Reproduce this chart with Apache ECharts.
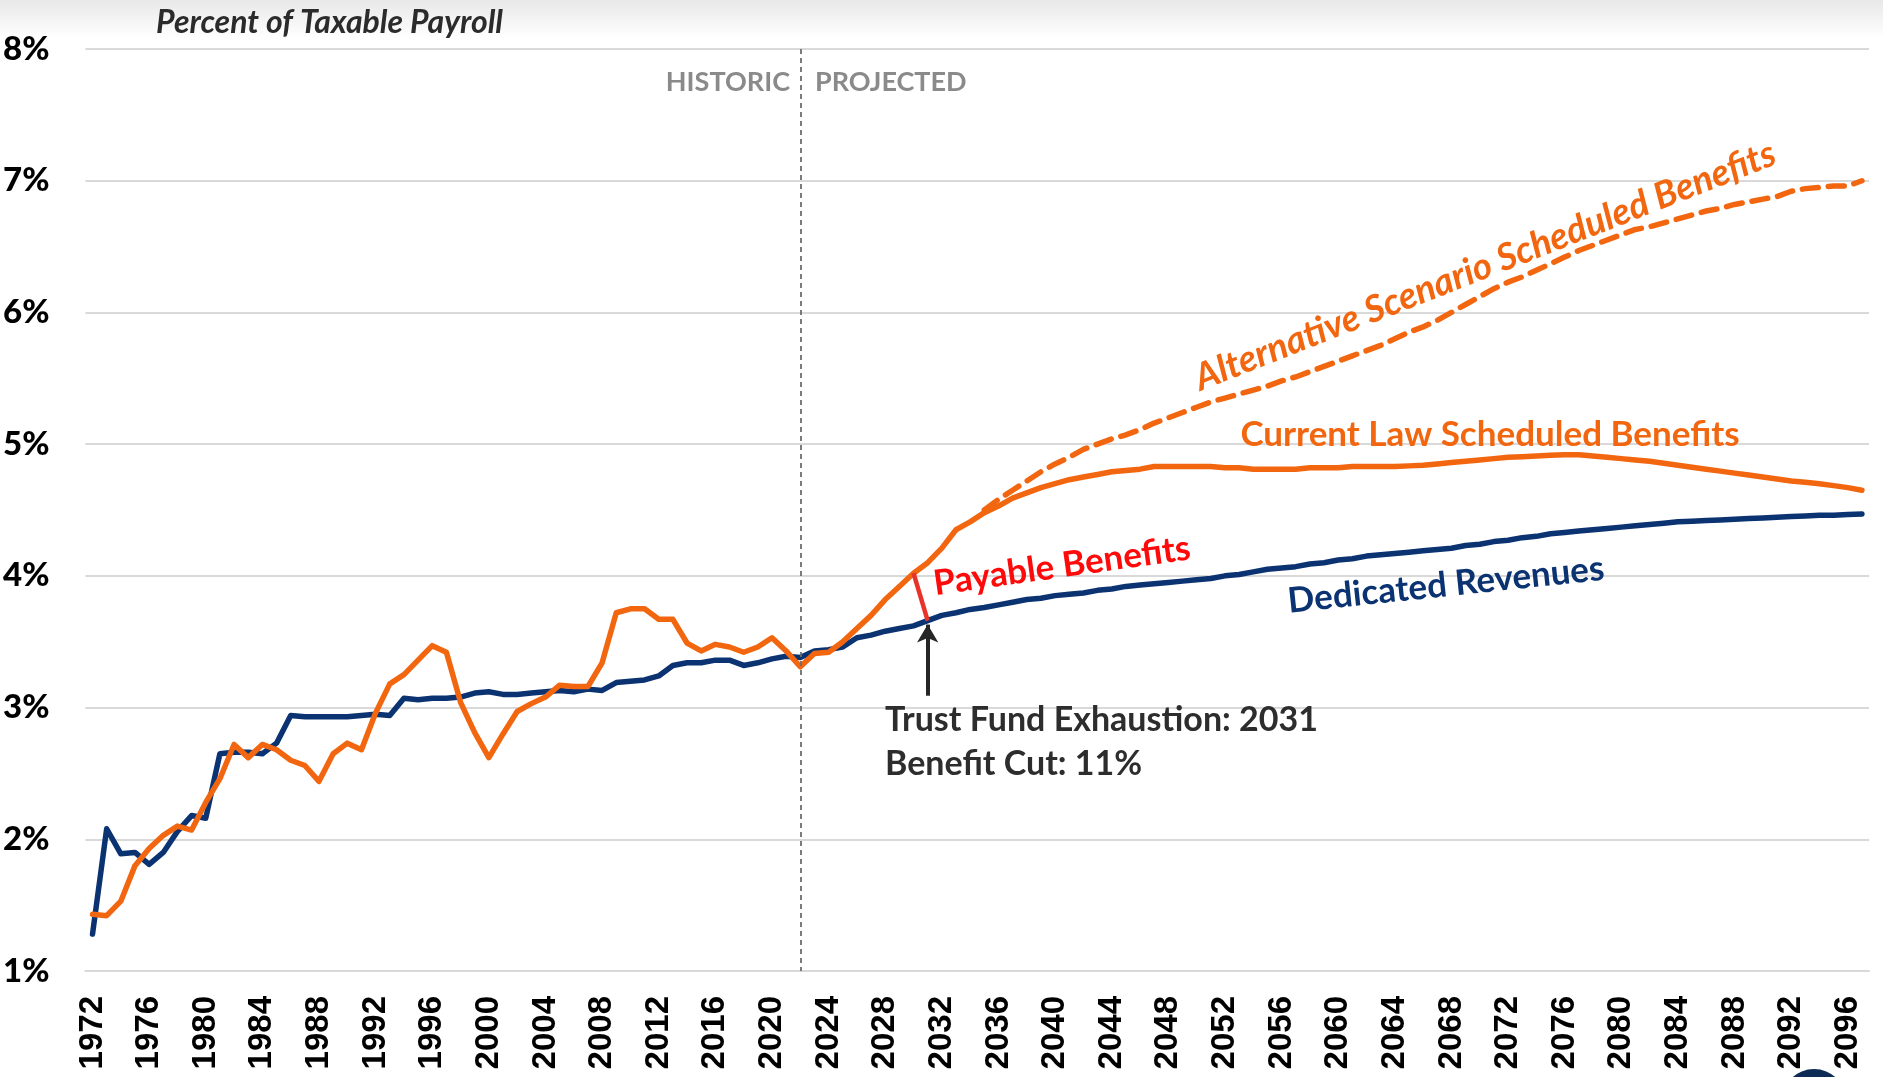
<!DOCTYPE html>
<html>
<head>
<meta charset="utf-8">
<script src="https://cdn.jsdelivr.net/npm/echarts@6/dist/echarts.min.js"></script>
<style>
  html, body { margin: 0; padding: 0; background: #fff; }
  #chart { width: 1883px; height: 1077px; }
</style>
</head>
<body>
<div id="chart"></div>
<script>
// years on the axis
var firstYear = 1972, lastYear = 2097;
var years = [];
for (var y = firstYear; y <= lastYear; y++) years.push(String(y));

// dedicated revenues, % of taxable payroll (1972-2097)
var revenue = [
  1.28, 2.08, 1.89, 1.90, 1.81, 1.90, 2.06, 2.18, 2.16, 2.65,
  2.66, 2.66, 2.65, 2.73, 2.94, 2.93, 2.93, 2.93, 2.93, 2.94,
  2.95, 2.94, 3.07, 3.06, 3.07, 3.07, 3.08, 3.11, 3.12, 3.10,
  3.10, 3.11, 3.12, 3.13, 3.12, 3.14, 3.13, 3.19, 3.20, 3.21,
  3.24, 3.32, 3.34, 3.34, 3.36, 3.36, 3.32, 3.34, 3.37, 3.39,
  3.38, 3.43, 3.44, 3.46, 3.53, 3.55, 3.58, 3.60, 3.62, 3.66,
  3.70, 3.72, 3.745, 3.76, 3.78, 3.80, 3.82, 3.83, 3.85, 3.86,
  3.87, 3.89, 3.90, 3.92, 3.93, 3.94, 3.95, 3.96, 3.97, 3.98,
  4.00, 4.01, 4.03, 4.05, 4.06, 4.07, 4.09, 4.10, 4.12, 4.13,
  4.15, 4.16, 4.17, 4.18, 4.19, 4.20, 4.21, 4.23, 4.24, 4.26,
  4.27, 4.29, 4.30, 4.32, 4.33, 4.34, 4.35, 4.36, 4.37, 4.38,
  4.39, 4.40, 4.41, 4.415, 4.42, 4.425, 4.43, 4.435, 4.44, 4.445,
  4.45, 4.455, 4.46, 4.46, 4.465, 4.47
];

// cost: historic, then current law scheduled benefits (1972-2097)
var cost = [
  1.43, 1.42, 1.53, 1.80, 1.93, 2.03, 2.10, 2.07, 2.28, 2.46,
  2.72, 2.62, 2.72, 2.68, 2.60, 2.56, 2.44, 2.65, 2.73, 2.68,
  2.96, 3.18, 3.25, 3.36, 3.47, 3.42, 3.04, 2.81, 2.62, 2.80,
  2.97, 3.03, 3.08, 3.17, 3.16, 3.16, 3.34, 3.72, 3.75, 3.75,
  3.67, 3.67, 3.49, 3.43, 3.48, 3.46, 3.42, 3.46, 3.53, 3.43,
  3.31, 3.41, 3.42, 3.50, 3.60, 3.70, 3.82, 3.92, 4.02, 4.10,
  4.21, 4.35, 4.41, 4.48, 4.53, 4.59, 4.63, 4.67, 4.70, 4.73,
  4.75, 4.77, 4.79, 4.80, 4.81, 4.83, 4.83, 4.83, 4.83, 4.83,
  4.82, 4.82, 4.81, 4.81, 4.81, 4.81, 4.82, 4.82, 4.82, 4.83,
  4.83, 4.83, 4.83, 4.835, 4.84, 4.85, 4.86, 4.87, 4.88, 4.89,
  4.90, 4.905, 4.91, 4.915, 4.92, 4.92, 4.91, 4.90, 4.89, 4.88,
  4.87, 4.855, 4.84, 4.825, 4.81, 4.795, 4.78, 4.765, 4.75, 4.735,
  4.72, 4.71, 4.70, 4.685, 4.67, 4.65
];

// alternative scenario scheduled benefits (2035-2097)
var altStart = 2035;
var altScenario = [
  4.50, 4.58, 4.65, 4.72, 4.79, 4.85, 4.90, 4.96, 5.00, 5.04,
  5.07, 5.11, 5.16, 5.20, 5.24, 5.28, 5.32, 5.35, 5.38, 5.41,
  5.44, 5.48, 5.51, 5.55, 5.59, 5.63, 5.67, 5.71, 5.75, 5.80,
  5.85, 5.89, 5.94, 6.00, 6.06, 6.12, 6.18, 6.23, 6.27, 6.32,
  6.37, 6.42, 6.47, 6.51, 6.55, 6.59, 6.63, 6.65, 6.68, 6.71,
  6.74, 6.77, 6.79, 6.82, 6.84, 6.86, 6.88, 6.92, 6.94, 6.95,
  6.96, 6.96, 7.00
];

// payable benefits drop at trust fund exhaustion
var payableYears = ['2030', '2031'];
var payable = [4.02, 3.66];

var divideYear = '2022';
var exhaustYear = '2031';
var arrowFrom = 3.09, arrowTo = 3.63;

var ORANGE = '#f2660f', NAVY = '#0b3371', RED = '#e8332a';

function padFrom(startYear, vals) {
  var out = [];
  for (var i = 0; i < years.length; i++) {
    var k = Number(years[i]) - startYear;
    out.push(k >= 0 && k < vals.length ? vals[k] : null);
  }
  return out;
}
var payableData = years.map(function (yr) {
  var i = payableYears.indexOf(yr);
  return i >= 0 ? payable[i] : null;
});

var myChart = echarts.init(document.getElementById('chart'));
var textFont = 'Lato';

var option = {
  animation: false,
  backgroundColor: '#ffffff',
  grid: { left: 84, right: 14, top: 49, bottom: 106 },
  xAxis: {
    type: 'category',
    data: years,
    boundaryGap: true,
    axisLine: { lineStyle: { color: '#d9d9d9', width: 2 } },
    axisTick: { interval: 3, length: 11, lineStyle: { color: '#d9d9d9', width: 2 } },
    axisLabel: {
      interval: 3, rotate: 90, margin: 25,
      color: '#000', fontFamily: 'Liberation Sans', fontWeight: 'bold', fontSize: 33
    }
  },
  yAxis: {
    type: 'value', min: 1, max: 8, interval: 1,
    axisLine: { show: false }, axisTick: { show: false },
    axisLabel: {
      formatter: '{value}%', margin: 36,
      color: '#000', fontFamily: textFont, fontWeight: 900, fontSize: 33
    },
    splitLine: { lineStyle: { color: '#d9d9d9', width: 2 } }
  },
  series: [
    {
      name: 'Dedicated Revenues', type: 'line', data: revenue,
      showSymbol: false, z: 3,
      lineStyle: { color: NAVY, width: 5.5, join: 'round', cap: 'round' },
      markLine: {
        silent: true, animation: false,
        label: { show: false },
        data: [
          [
            { coord: [divideYear, 8], symbol: 'none', lineStyle: { color: '#6e6e6e', width: 1.8, type: [5, 4] } },
            { coord: [divideYear, 1], symbol: 'none' }
          ],
          [
            { coord: [exhaustYear, arrowFrom], symbol: 'none', lineStyle: { color: '#262626', width: 4, type: 'solid' } },
            { coord: [exhaustYear, arrowTo], symbol: 'arrow', symbolSize: [16, 18] }
          ]
        ]
      }
    },
    {
      name: 'Scheduled Benefits', type: 'line', data: cost,
      showSymbol: false, z: 4,
      lineStyle: { color: ORANGE, width: 5.5, join: 'round', cap: 'round' }
    },
    {
      name: 'Alternative Scenario', type: 'line', data: padFrom(altStart, altScenario),
      showSymbol: false, z: 3,
      lineStyle: { color: ORANGE, width: 5.5, type: [16, 10], cap: 'round' }
    },
    {
      name: 'Payable Benefits', type: 'line', data: payableData,
      showSymbol: false, z: 5,
      lineStyle: { color: RED, width: 4.5 }
    }
  ],
  graphic: [
    {
      type: 'rect', z: -10, shape: { x: 0, y: 0, width: 1883, height: 38 },
      style: { fill: new echarts.graphic.LinearGradient(0, 0, 0, 1, [
        { offset: 0, color: '#e8e8e8' }, { offset: 1, color: '#ffffff' }]) }
    },
    {
      type: 'circle', z: 10, shape: { cx: 1814, cy: 1101, r: 32 },
      style: { fill: '#0d2b55' }
    },
    {
      type: 'text', z: 10, x: 156, y: 23,
      style: { text: 'Percent of Taxable Payroll', fill: '#2b2b2b', fontFamily: textFont,
        fontStyle: 'italic', fontWeight: 'bold', fontSize: 32, textVerticalAlign: 'middle' }
    },
    {
      type: 'text', z: 10, x: 790, y: 82,
      style: { text: 'HISTORIC', fill: '#8a8a8a', fontFamily: textFont, fontWeight: 'bold',
        fontSize: 27, textAlign: 'right', textVerticalAlign: 'middle' }
    },
    {
      type: 'text', z: 10, x: 815, y: 82,
      style: { text: 'PROJECTED', fill: '#8a8a8a', fontFamily: textFont, fontWeight: 'bold',
        fontSize: 27, textAlign: 'left', textVerticalAlign: 'middle' }
    },
    {
      type: 'text', z: 10, x: 1485, y: 266, rotation: 21.5 * Math.PI / 180,
      style: { text: 'Alternative Scenario Scheduled Benefits', fill: ORANGE, fontFamily: textFont,
        fontStyle: 'italic', fontWeight: 'bold', fontSize: 37, textAlign: 'center', textVerticalAlign: 'middle' }
    },
    {
      type: 'text', z: 10, x: 1490, y: 435,
      style: { text: 'Current Law Scheduled Benefits', fill: ORANGE, fontFamily: textFont,
        fontWeight: 'bold', fontSize: 35, textAlign: 'center', textVerticalAlign: 'middle' }
    },
    {
      type: 'text', z: 10, x: 1062, y: 566, rotation: 8 * Math.PI / 180,
      style: { text: 'Payable Benefits', fill: '#ff0a0a', fontFamily: textFont,
        fontWeight: 'bold', fontSize: 35, textAlign: 'center', textVerticalAlign: 'middle' }
    },
    {
      type: 'text', z: 10, x: 1446, y: 585, rotation: 6 * Math.PI / 180,
      style: { text: 'Dedicated Revenues', fill: NAVY, fontFamily: textFont,
        fontWeight: 'bold', fontSize: 35, textAlign: 'center', textVerticalAlign: 'middle' }
    },
    {
      type: 'text', z: 10, x: 885, y: 720,
      style: { text: 'Trust Fund Exhaustion: 2031', fill: '#2d2d2d', fontFamily: textFont,
        fontWeight: 'bold', fontSize: 34, textAlign: 'left', textVerticalAlign: 'middle' }
    },
    {
      type: 'text', z: 10, x: 885, y: 764,
      style: { text: 'Benefit Cut: 11%', fill: '#2d2d2d', fontFamily: textFont,
        fontWeight: 'bold', fontSize: 34, textAlign: 'left', textVerticalAlign: 'middle' }
    }
  ]
};

myChart.setOption(option);
</script>
</body>
</html>
